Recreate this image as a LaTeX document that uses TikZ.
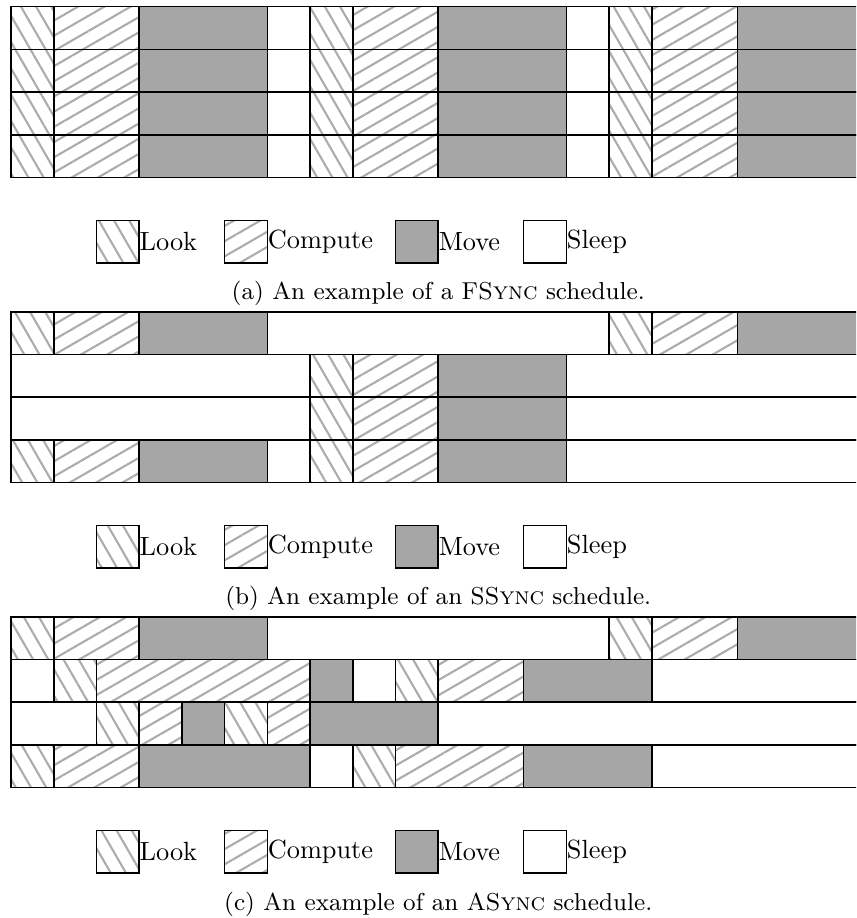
\documentclass[tikz,border=0pt]{standalone}
\usetikzlibrary{patterns.meta}
\begin{document}
\begin{tikzpicture}[x=16.23pt,y=-16.23pt,
  seg/.style={draw=black,line width=0.6pt},
  lookst/.style={seg,pattern={Lines[angle=-60,distance=5pt,line width=0.8pt]},pattern color=gray!65},
  compst/.style={seg,pattern={Lines[angle=30,distance=5pt,line width=0.8pt]},pattern color=gray!65},
  movest/.style={seg,fill=gray!70},
  sleepst/.style={seg,fill=white},
  legtext/.style={anchor=west,inner sep=0pt,font=\fontsize{10}{12}\selectfont},
  captext/.style={inner sep=0pt,font=\fontsize{9.3}{11}\selectfont}]
\clip (-0.2575,-0.157) rectangle (19.78,21.33);
\fill[white] (-0.2575,-0.157) rectangle (19.78,21.33);
% styles lookup: L=lookst, C=compst, M=movest, S=sleepst
\def\segL{lookst}\def\segC{compst}\def\segM{movest}\def\segS{sleepst}
% panel (a)
\foreach \r in {0,1,2,3}{
  \foreach \t/\a/\b in {L/0/1,C/1/3,M/3/6,S/6/7,L/7/8,C/8/10,M/10/13,S/13/14,L/14/15,C/15/17,M/17/20}{
    \draw[style=\csname seg\t\endcsname] (\a,\r) rectangle (\b,\r+1);
  }
}
% panel (b)
\begin{scope}[yshift=-7.14*16.23pt]
\foreach \t/\r/\a/\b in {L/0/0/1,C/0/1/3,M/0/3/6,S/0/6/14,L/0/14/15,C/0/15/17,M/0/17/20,
  S/1/0/7,L/1/7/8,C/1/8/10,M/1/10/13,S/1/13/20,
  S/2/0/7,L/2/7/8,C/2/8/10,M/2/10/13,S/2/13/20,
  L/3/0/1,C/3/1/3,M/3/3/6,S/3/6/7,L/3/7/8,C/3/8/10,M/3/10/13,S/3/13/20}{
  \draw[style=\csname seg\t\endcsname] (\a,\r) rectangle (\b,\r+1);
}
\end{scope}
% panel (c)
\begin{scope}[yshift=-14.28*16.23pt]
\foreach \t/\r/\a/\b in {L/0/0/1,C/0/1/3,M/0/3/6,S/0/6/14,L/0/14/15,C/0/15/17,M/0/17/20,
  S/1/0/1,L/1/1/2,C/1/2/7,M/1/7/8,S/1/8/9,L/1/9/10,C/1/10/12,M/1/12/15,S/1/15/20,
  S/2/0/2,L/2/2/3,C/2/3/4,M/2/4/5,L/2/5/6,C/2/6/7,M/2/7/10,S/2/10/20,
  L/3/0/1,C/3/1/3,M/3/3/7,S/3/7/8,L/3/8/9,C/3/9/12,M/3/12/15,S/3/15/20}{
  \draw[style=\csname seg\t\endcsname] (\a,\r) rectangle (\b,\r+1);
}
\end{scope}
% legends and captions
\foreach \p/\off/\cap in {a/0/{(a) An example of a F\textsc{Sync} schedule.},
                          b/7.14/{(b) An example of an S\textsc{Sync} schedule.},
                          c/14.28/{(c) An example of an A\textsc{Sync} schedule.}}{
  \draw[lookst] (2,5+\off) rectangle (3,6+\off);
  \node[legtext] (look\p) at (3,5.5+\off) {Look};
  \draw[compst] (5,5+\off) rectangle (6,6+\off);
  \node[legtext] (comp\p) at (6,5.5+\off) {Compute};
  \draw[movest] (9,5+\off) rectangle (10,6+\off);
  \node[legtext] (move\p) at (10,5.5+\off) {Move};
  \draw[sleepst] (12,5+\off) rectangle (13,6+\off);
  \node[legtext] (sleep\p) at (13,5.5+\off) {Sleep};
  \node[captext] (cap\p) at (10,6.72+\off) {\cap};
}
\end{tikzpicture}
\end{document}
